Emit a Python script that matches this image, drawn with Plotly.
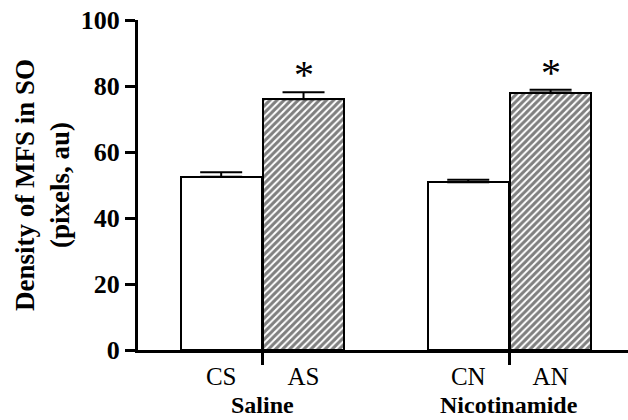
import plotly.graph_objects as go

categories = ["CS", "AS", "CN", "AN"]
positions = [0, 1, 3, 4]
values = [52.5, 76.0, 50.8, 78.0]
errors = [1.4, 2.1, 0.8, 0.9]
hatched = [False, True, False, True]
significant = [False, True, False, True]
groups = ["Saline", "Nicotinamide"]
group_positions = [0.5, 3.5]
y_ticks = [0, 20, 40, 60, 80, 100]

FONT = "'Liberation Serif', 'Times New Roman', Times, 'DejaVu Serif', serif"

fig = go.Figure()
fig.add_trace(go.Bar(
    x=positions, y=values, width=0.98,
    marker=dict(
        color="white",
        line=dict(color="black", width=2),
        pattern=dict(
            shape=["/" if h else "" for h in hatched],
            fgcolor="black", bgcolor="white", size=5, solidity=0.6,
        ),
    ),
    error_y=dict(type="data", array=errors, arrayminus=[0] * len(errors),
                 symmetric=False, color="black", thickness=2, width=21),
    showlegend=False,
    hoverinfo="skip",
))

for p, v, e, s in zip(positions, values, errors, significant):
    if s:
        fig.add_annotation(x=p, y=v + e, xref="x", yref="y",
                           yanchor="bottom", yshift=-7, text="*",
                           showarrow=False,
                           font=dict(family=FONT, size=40, color="black"))

for g, gx in zip(groups, group_positions):
    fig.add_annotation(x=gx, xref="x", y=-0.2121, yref="paper",
                       yanchor="bottom",
                       text=f"<b>{g}</b>", showarrow=False,
                       font=dict(family=FONT, size=24, color="black"))

fig.add_annotation(x=-0.196, xref="paper", y=0.5, yref="paper",
                   xanchor="center", yanchor="middle", textangle=-90,
                   text="<b>Density of MFS in SO<br>(pixels, au)</b>",
                   showarrow=False,
                   font=dict(family=FONT, size=27, color="black"))

fig.update_layout(
    width=628, height=420,
    margin=dict(l=138, r=0, t=20, b=70, autoexpand=False),
    paper_bgcolor="white", plot_bgcolor="white",
    font=dict(family=FONT, color="black"),
    bargap=0,
)
fig.update_xaxes(
    range=[-1.01, 4.94], showgrid=False, zeroline=False, automargin=False,
    showline=True, linecolor="black", linewidth=3,
    tickvals=positions, ticktext=categories, ticks="", ticklen=0,
    ticklabelstandoff=2,
    tickfont=dict(family=FONT, size=25, color="black"),
    minor=dict(tickvals=group_positions, ticks="outside", ticklen=12,
               tickwidth=3, tickcolor="black"),
)
fig.update_yaxes(
    range=[0, 100], showgrid=False, zeroline=False, automargin=False,
    showline=True, linecolor="black", linewidth=3,
    tickvals=y_ticks, ticktext=[f"<b>{t}</b>" for t in y_ticks],
    ticks="outside", ticklen=10, tickwidth=3, tickcolor="black",
    tickfont=dict(family=FONT, size=26, color="black"),
)

fig.write_html(
    "out.html",
    config={"displayModeBar": False},
    post_script="document.body.style.margin='0';document.body.style.padding='0';",
)
